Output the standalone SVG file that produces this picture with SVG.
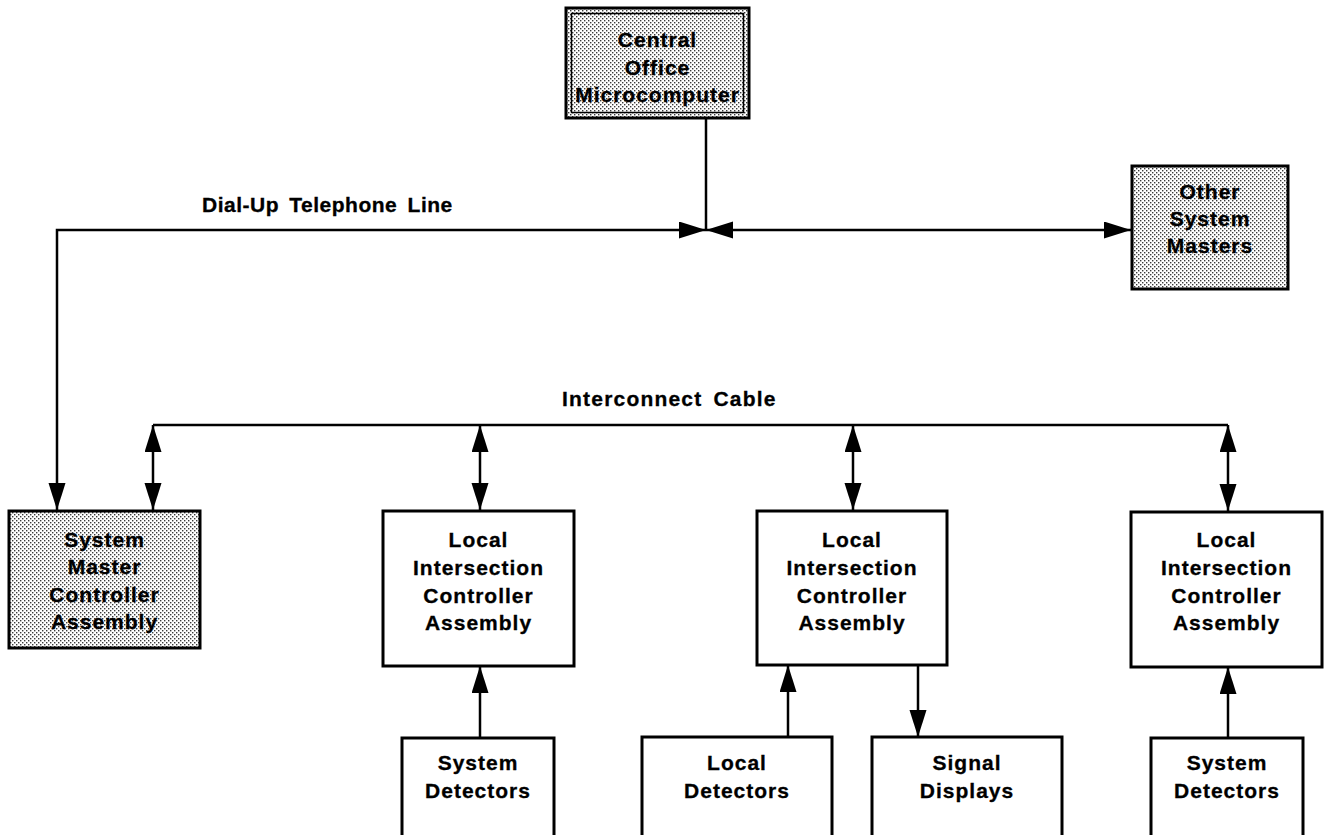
<svg xmlns="http://www.w3.org/2000/svg" width="1326" height="835" viewBox="0 0 1326 835">
  <defs>
    <!-- halftone screen used for the shaded boxes -->
    <pattern id="screen" width="4" height="4" patternUnits="userSpaceOnUse">
      <rect width="4" height="4" fill="#ffffff"/>
      <rect x="0" y="0" width="1.4" height="1.4" fill="#3a3a3a"/>
      <rect x="2" y="2" width="1.4" height="1.4" fill="#3a3a3a"/>
    </pattern>
    <marker id="head" markerUnits="userSpaceOnUse" markerWidth="28" markerHeight="18" refX="27" refY="8.5" orient="auto-start-reverse">
      <path d="M0,0 L27,8.5 L0,17 Z" fill="#000"/>
    </marker>
    <style>
      .box { fill: #ffffff; stroke: #000; stroke-width: 3; }
      .shaded { fill: url(#screen); stroke: #000; stroke-width: 3; }
      .wire { fill: none; stroke: #000; stroke-width: 2.5; }
      .t { font-family: "Liberation Sans", Arial, sans-serif; font-weight: bold; font-size: 21px; letter-spacing: 1px; text-anchor: middle; fill: #000; stroke: #000; stroke-width: 0.3; }
      .lbl { font-family: "Liberation Sans", Arial, sans-serif; font-weight: bold; font-size: 21px; letter-spacing: 0.5px; word-spacing: 4px; fill: #000; stroke: #000; stroke-width: 0.3; }
    </style>
  </defs>

  <rect width="1326" height="835" fill="#ffffff"/>

  <!-- connectors -->
  <g id="connectors">
    <!-- dial-up telephone line -->
    <path class="wire" d="M706,118 V230"/>
    <path class="wire" d="M706,230 H57 V510" marker-start="url(#head)" marker-end="url(#head)"/>
    <path class="wire" d="M706,230 H1131" marker-start="url(#head)" marker-end="url(#head)"/>
    <!-- interconnect cable -->
    <path class="wire" d="M153,425 H1228"/>
    <path class="wire" d="M153,425 V510" marker-start="url(#head)" marker-end="url(#head)"/>
    <path class="wire" d="M480,425 V510" marker-start="url(#head)" marker-end="url(#head)"/>
    <path class="wire" d="M853,425 V510" marker-start="url(#head)" marker-end="url(#head)"/>
    <path class="wire" d="M1228,425 V511" marker-start="url(#head)" marker-end="url(#head)"/>
    <!-- detectors and displays -->
    <path class="wire" d="M480,738 V666" marker-end="url(#head)"/>
    <path class="wire" d="M788,737 V665" marker-end="url(#head)"/>
    <path class="wire" d="M918,665 V737" marker-end="url(#head)"/>
    <path class="wire" d="M1228,738 V667" marker-end="url(#head)"/>
    <text class="lbl" x="202" y="212">Dial-Up Telephone Line</text>
    <text class="lbl" x="562" y="406" textLength="214" lengthAdjust="spacing">Interconnect Cable</text>
  </g>

  <g id="central-office">
    <rect class="shaded" x="566" y="8" width="183" height="110"/>
    <rect x="571.5" y="13.5" width="172" height="99" fill="none" stroke="#000" stroke-width="1.5"/>
    <text class="t" x="657.5" y="47">Central<tspan x="657.5" dy="28">Office</tspan><tspan x="657.5" dy="27">Microcomputer</tspan></text>
  </g>

  <g id="other-masters">
    <rect class="shaded" x="1132" y="166" width="156" height="123"/>
    <text class="t" x="1210" y="199">Other<tspan x="1210" dy="27">System</tspan><tspan x="1210" dy="27">Masters</tspan></text>
  </g>

  <g id="system-master">
    <rect class="shaded" x="9" y="511" width="191" height="137"/>
    <text class="t" x="104.5" y="547">System<tspan x="104.5" dy="27">Master</tspan><tspan x="104.5" dy="27.5">Controller</tspan><tspan x="104.5" dy="27.5">Assembly</tspan></text>
  </g>

  <g id="local-1">
    <rect class="box" x="383" y="511" width="191" height="155"/>
    <text class="t" x="478.5" y="547">Local<tspan x="478.5" dy="28">Intersection</tspan><tspan x="478.5" dy="28">Controller</tspan><tspan x="478.5" dy="27">Assembly</tspan></text>
  </g>

  <g id="local-2">
    <rect class="box" x="757" y="511" width="190" height="154"/>
    <text class="t" x="852" y="547">Local<tspan x="852" dy="28">Intersection</tspan><tspan x="852" dy="28">Controller</tspan><tspan x="852" dy="27">Assembly</tspan></text>
  </g>

  <g id="local-3">
    <rect class="box" x="1131" y="512" width="191" height="155"/>
    <text class="t" x="1226.5" y="547">Local<tspan x="1226.5" dy="28">Intersection</tspan><tspan x="1226.5" dy="28">Controller</tspan><tspan x="1226.5" dy="27">Assembly</tspan></text>
  </g>

  <g id="system-detectors-1">
    <rect class="box" x="402" y="738" width="152" height="110"/>
    <text class="t" x="478" y="770">System<tspan x="478" dy="28">Detectors</tspan></text>
  </g>

  <g id="local-detectors">
    <rect class="box" x="642" y="737" width="190" height="110"/>
    <text class="t" x="737" y="770">Local<tspan x="737" dy="28">Detectors</tspan></text>
  </g>

  <g id="signal-displays">
    <rect class="box" x="872" y="737" width="190" height="110"/>
    <text class="t" x="967" y="770">Signal<tspan x="967" dy="28">Displays</tspan></text>
  </g>

  <g id="system-detectors-2">
    <rect class="box" x="1151" y="738" width="152" height="110"/>
    <text class="t" x="1227" y="770">System<tspan x="1227" dy="28">Detectors</tspan></text>
  </g>
</svg>
